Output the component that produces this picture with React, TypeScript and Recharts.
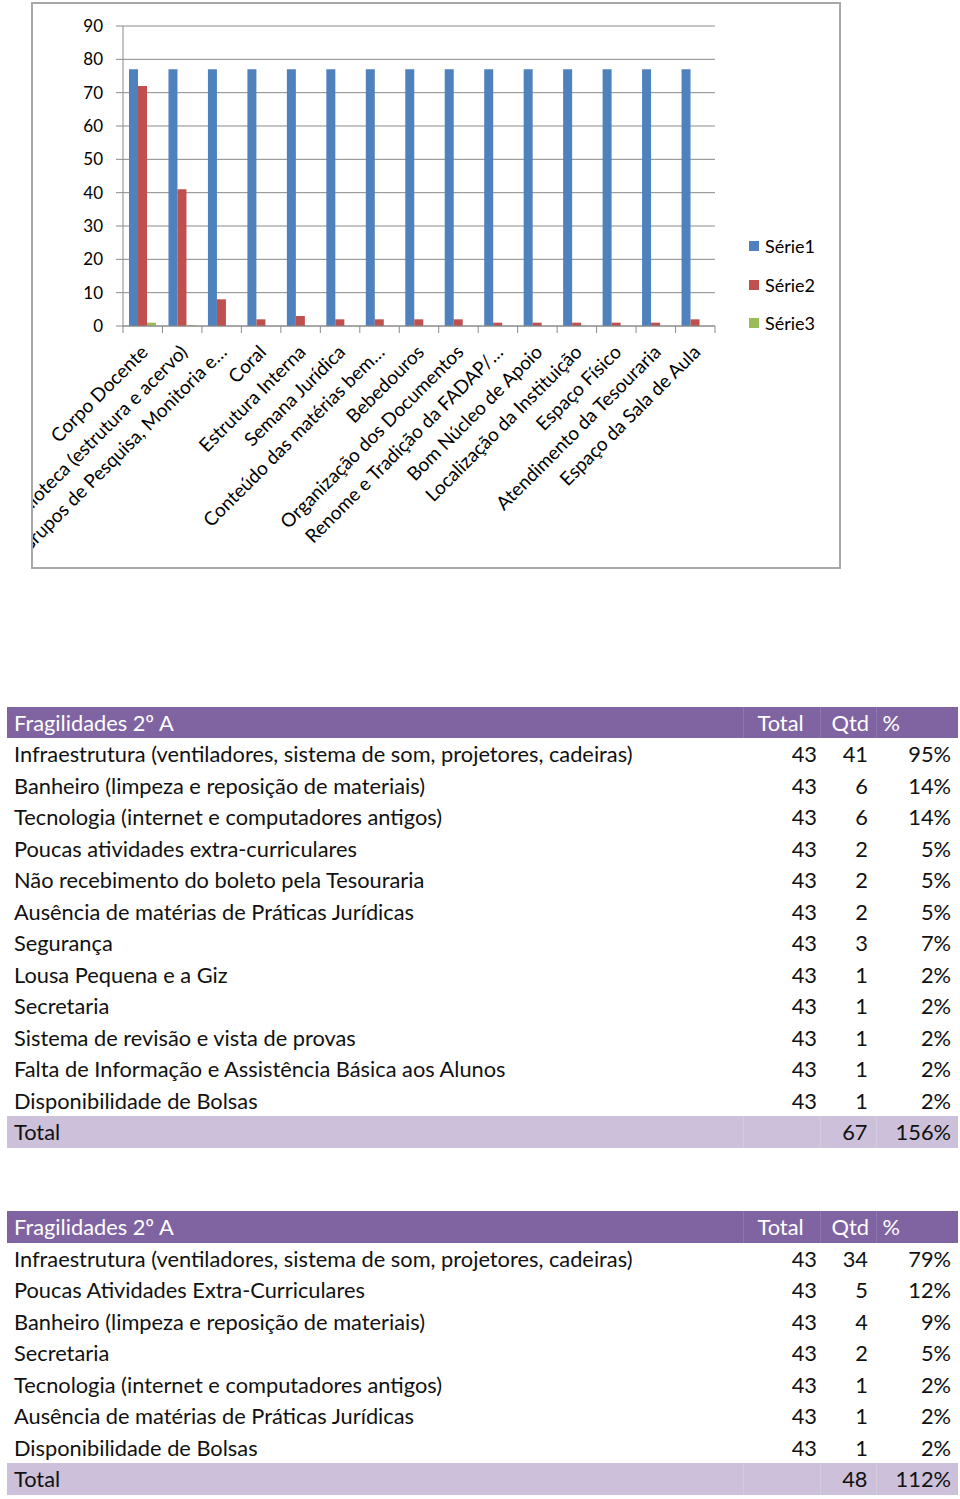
import { BarChart, Bar, XAxis, YAxis, CartesianGrid, Legend } from "recharts";

const categories = [
  "Corpo Docente",
  "Biblioteca (estrutura e acervo)",
  "Grupos de Pesquisa, Monitoria e…",
  "Coral",
  "Estrutura Interna",
  "Semana Jurídica",
  "Conteúdo das matérias bem…",
  "Bebedouros",
  "Organização dos Documentos",
  "Renome e Tradição da FADAP/…",
  "Bom Núcleo de Apoio",
  "Localização da Instituição",
  "Espaço Físico",
  "Atendimento da Tesouraria",
  "Espaço da Sala de Aula",
];
const serie1 = [77, 77, 77, 77, 77, 77, 77, 77, 77, 77, 77, 77, 77, 77, 77];
const serie2 = [72, 41, 8, 2, 3, 2, 2, 2, 2, 1, 1, 1, 1, 1, 2];
const serie3 = [1, 0.3, 0, 0, 0, 0, 0, 0, 0, 0, 0, 0, 0, 0, 0];
const yTicks = [0, 10, 20, 30, 40, 50, 60, 70, 80, 90];

const data = categories.map((name, i) => ({
  name,
  s1: serie1[i],
  s2: serie2[i],
  s3: serie3[i],
}));

// tables under the chart
const tableTitle = "Fragilidades 2º A";
const tableHeads = ["Total", "Qtd", "%"];

const labelsA = [
  "Infraestrutura (ventiladores, sistema de som, projetores, cadeiras)",
  "Banheiro (limpeza e reposição de materiais)",
  "Tecnologia (internet e computadores antigos)",
  "Poucas atividades extra-curriculares",
  "Não recebimento do boleto pela Tesouraria",
  "Ausência de matérias de Práticas Jurídicas",
  "Segurança",
  "Lousa Pequena e a Giz",
  "Secretaria",
  "Sistema de revisão e vista de provas",
  "Falta de Informação e Assistência Básica aos Alunos",
  "Disponibilidade de Bolsas",
];
const totalsA = [43, 43, 43, 43, 43, 43, 43, 43, 43, 43, 43, 43];
const qtdA = [41, 6, 6, 2, 2, 2, 3, 1, 1, 1, 1, 1];
const pctA = ["95%", "14%", "14%", "5%", "5%", "5%", "7%", "2%", "2%", "2%", "2%", "2%"];
const sumA = { qtd: 67, pct: "156%" };

const labelsB = [
  "Infraestrutura (ventiladores, sistema de som, projetores, cadeiras)",
  "Poucas Atividades Extra-Curriculares",
  "Banheiro (limpeza e reposição de materiais)",
  "Secretaria",
  "Tecnologia (internet e computadores antigos)",
  "Ausência de matérias de Práticas Jurídicas",
  "Disponibilidade de Bolsas",
];
const totalsB = [43, 43, 43, 43, 43, 43, 43];
const qtdB = [34, 5, 4, 2, 1, 1, 1];
const pctB = ["79%", "12%", "9%", "5%", "2%", "2%", "2%"];
const sumB = { qtd: 48, pct: "112%" };

const FONT = "Lato, 'Noto Sans', sans-serif";
const GRID = "#8a8a8a";
const PLOT_W = 592;
const BAND = PLOT_W / categories.length;

const CategoryTick = (props: any) => {
  const { x, y, payload, index } = props;
  return (
    <g>
      <line x1={x - BAND / 2} x2={x - BAND / 2} y1={y} y2={y + 7} stroke={GRID} />
      {index === categories.length - 1 && (
        <line x1={x + BAND / 2} x2={x + BAND / 2} y1={y} y2={y + 7} stroke={GRID} />
      )}
      <text
        transform={`translate(${x + 1},${y + 22}) rotate(-45)`}
        textAnchor="end"
        dominantBaseline="central"
        fontSize={19}
        fontFamily={FONT}
        fill="#000"
      >
        {payload.value}
      </text>
    </g>
  );
};

const LegendBox = (props: any) => {
  const items = props.payload || [];
  return (
    <div style={{ fontFamily: FONT }}>
      {items.map((p: any) => (
        <div key={p.value} style={{ display: "flex", alignItems: "center", height: 38.5 }}>
          <span style={{ width: 10, height: 10, background: p.color, marginRight: 6, display: "inline-block" }} />
          <span style={{ fontSize: 18, color: "#000" }}>{p.value}</span>
        </div>
      ))}
    </div>
  );
};

const cell: any = { padding: 0, height: 31.5, whiteSpace: "nowrap" };

const FragTable = ({ top, labels, totals, qtd, pct, sum }: any) => (
  <table
    style={{
      position: "absolute",
      left: 7,
      top,
      width: 951,
      borderCollapse: "collapse",
      tableLayout: "fixed",
      fontFamily: FONT,
      fontSize: 21.8,
      color: "#111",
    }}
  >
    <colgroup>
      <col style={{ width: 736 }} />
      <col style={{ width: 77 }} />
      <col style={{ width: 56 }} />
      <col style={{ width: 82 }} />
    </colgroup>
    <tbody>
      <tr style={{ background: "#8064A2", color: "#fff" }}>
        <td style={{ ...cell, paddingLeft: 7 }}>{tableTitle}</td>
        <td style={{ ...cell, paddingLeft: 14, borderLeft: "1px solid rgba(255,255,255,0.12)" }}>{tableHeads[0]}</td>
        <td style={{ ...cell, paddingLeft: 11, borderLeft: "1px solid rgba(255,255,255,0.12)" }}>{tableHeads[1]}</td>
        <td style={{ ...cell, paddingLeft: 6, borderLeft: "1px solid rgba(255,255,255,0.12)" }}>{tableHeads[2]}</td>
      </tr>
      {labels.map((l: string, i: number) => (
        <tr key={l}>
          <td style={{ ...cell, paddingLeft: 7 }}>{l}</td>
          <td style={{ ...cell, textAlign: "right", paddingRight: 3 }}>{totals[i]}</td>
          <td style={{ ...cell, textAlign: "right", paddingRight: 8 }}>{qtd[i]}</td>
          <td style={{ ...cell, textAlign: "right", paddingRight: 7 }}>{pct[i]}</td>
        </tr>
      ))}
      <tr style={{ background: "#CCC0DA" }}>
        <td style={{ ...cell, paddingLeft: 7 }}>Total</td>
        <td style={{ ...cell, borderLeft: "1px solid rgba(255,255,255,0.2)" }} />
        <td style={{ ...cell, textAlign: "right", paddingRight: 8, borderLeft: "1px solid rgba(255,255,255,0.2)" }}>{sum.qtd}</td>
        <td style={{ ...cell, textAlign: "right", paddingRight: 7, borderLeft: "1px solid rgba(255,255,255,0.2)" }}>{sum.pct}</td>
      </tr>
    </tbody>
  </table>
);

export default function App() {
  return (
    <div style={{ position: "absolute", left: 0, top: 0, width: 960, height: 1499, background: "#fff" }}>
      <div
        style={{
          position: "absolute",
          left: 31,
          top: 2,
          width: 810,
          height: 567,
          border: "2px solid #a8a8a8",
          boxSizing: "border-box",
          overflow: "hidden",
        }}
      >
        <BarChart
          width={806}
          height={563}
          data={data}
          margin={{ top: 22, right: 124, left: 0, bottom: 0 }}
          barCategoryGap={6}
          barGap={0}
        >
          <CartesianGrid vertical={false} stroke={GRID} />
          <YAxis
            width={90}
            domain={[0, 90]}
            ticks={yTicks}
            interval={0}
            stroke={GRID}
            tickSize={7}
            tickMargin={13}
            tick={{ fontSize: 17, fontFamily: FONT, fill: "#000" }}
          />
          <XAxis
            dataKey="name"
            height={241}
            interval={0}
            stroke={GRID}
            tickLine={false}
            tickSize={0}
            tickMargin={0}
            tick={<CategoryTick />}
          />
          <Legend
            layout="vertical"
            align="center"
            verticalAlign="middle"
            wrapperStyle={{ left: 716, top: 223, width: 90 }}
            content={<LegendBox />}
          />
          <Bar dataKey="s1" name="Série1" fill="#4F81BD" isAnimationActive={false} />
          <Bar dataKey="s2" name="Série2" fill="#C0504D" isAnimationActive={false} />
          <Bar dataKey="s3" name="Série3" fill="#9BBB59" isAnimationActive={false} />
        </BarChart>
      </div>
      <FragTable top={706.5} labels={labelsA} totals={totalsA} qtd={qtdA} pct={pctA} sum={sumA} />
      <FragTable top={1211} labels={labelsB} totals={totalsB} qtd={qtdB} pct={pctB} sum={sumB} />
    </div>
  );
}
